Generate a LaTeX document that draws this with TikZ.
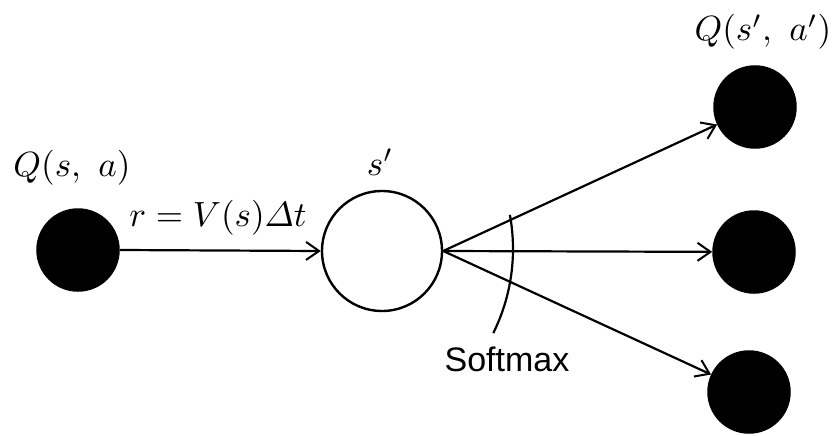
\documentclass[tikz,border=0pt]{standalone}
\usepackage{amsmath}
\usepackage[no-math]{fontspec}
\newfontfamily\labelsans{Liberation Sans}
\usetikzlibrary{arrows.meta}
\begin{document}
\begin{tikzpicture}[x=1pt,y=-1pt,
  blackdot/.style={circle,fill=black,draw=black,line width=1.5pt,minimum size=82pt,inner sep=0pt},
  whitedot/.style={circle,fill=white,draw=black,line width=2.4pt,minimum size=120pt,inner sep=0pt},
  conn/.style={line width=2.2pt,-{Straight Barb[length=13pt,width=18pt,line width=2pt]}},
  mathlbl/.style={inner sep=0pt,scale=3.5,transform shape},
  sanslbl/.style={font=\labelsans\fontsize{34}{40}\selectfont,inner sep=0pt}]
\useasboundingbox (0,0) rectangle (835,436);
\node[blackdot] (qsa) at (78,250) {};
\node[whitedot] (sp) at (382,251) {};
\node[blackdot] (q1) at (755,107) {};
\node[blackdot] (q2) at (754,252) {};
\node[blackdot] (q3) at (749,392) {};
\coordinate (arcc) at (324,249);
\draw[conn] (qsa.east) -- (sp.west);
\draw[conn] (sp.east) -- (q1);
\draw[conn] (sp.east) -- (q2);
\draw[conn] (sp.east) -- (q3);
\draw[line width=2.2pt] ([shift={(-10.4:189)}]arcc) arc[start angle=-10.4,end angle=26.4,radius=189];
\node[mathlbl] (lqsa) at (72,168) {$Q(s,\ a)$};
\node[mathlbl] (lr) at (218,218) {$r=V(s)\varDelta t$};
\node[mathlbl] (lsp) at (380,162) {$s'$};
\node[mathlbl] (lq1) at (763,32) {$Q(s',\ a')$};
\node[sanslbl] (lsm) at (507,359) {Softmax};
\end{tikzpicture}
\end{document}
